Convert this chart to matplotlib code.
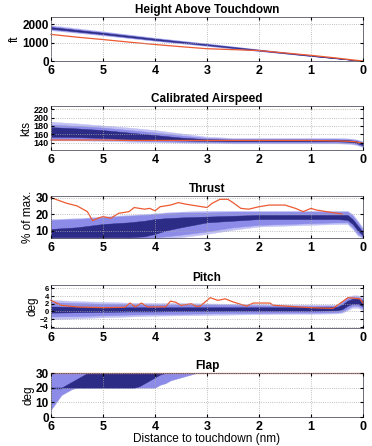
import matplotlib
matplotlib.use('Agg')
from matplotlib import pyplot as plt

plt.rcParams['font.family'] = ['Liberation Sans', 'DejaVu Sans']

# colours
c_light = '#c0c0f5'
c_mid = '#8c8ce8'
c_dark = '#2c2c86'
c_red = '#ec5a32'

# ---- Height above touchdown
dist_h = [6, 5, 4, 3, 2, 1, 0]
h_dark_lo = [1760, 1465, 1150, 865, 570, 280, 0]
h_dark_hi = [1850, 1540, 1215, 915, 610, 300, 0]
h_mid_lo = [1720, 1430, 1120, 840, 555, 270, 0]
h_mid_hi = [1900, 1580, 1245, 940, 625, 310, 0]
h_light_lo = [1680, 1400, 1100, 820, 540, 265, 0]
h_light_hi = [1950, 1620, 1270, 960, 640, 320, 5]
dist_h_red = [6, 5.5, 5, 4.5, 4, 3.5, 3, 2.5, 2, 1.5, 1, 0.5, 0.2, 0]
h_red = [1450, 1300, 1170, 1030, 900, 780, 670, 620, 570, 440, 310, 160, 60, 0]

# ---- Calibrated airspeed
dist_a = [6, 5.5, 5, 4.5, 4, 3.5, 3, 2.5, 2, 1.5, 1, 0.5, 0.3, 0.15, 0]
a_dark_lo = [154, 153, 151, 148, 146, 145, 144, 143, 143, 143, 143, 143, 142, 140, 133]
a_dark_hi = [177, 174, 170, 164, 158, 152, 148, 147, 147, 147, 147, 147, 146, 144, 139]
a_mid_lo = [149, 148, 147, 145, 143, 142, 141, 140, 140, 140, 140, 140, 139, 137, 131]
a_mid_hi = [183, 180, 176, 170, 164, 157, 151, 149, 149, 149, 149, 149, 148, 147, 141]
a_light_lo = [145, 145, 144, 142, 141, 140, 139, 138, 138, 138, 138, 138, 137, 135, 129]
a_light_hi = [190, 186, 181, 176, 170, 162, 154, 151, 151, 151, 151, 151, 150, 148, 143]
a_red = [146, 146, 146, 145, 145, 145, 145, 145, 145, 145, 145, 144, 143, 142, 138]

# ---- Thrust
dist_t = [6, 5.5, 5, 4.5, 4.2, 4, 3.8, 3.5, 3, 2.5, 2, 1.5, 1, 0.5, 0.3, 0.2, 0.1, 0]
t_dark_lo = [6, 6, 6, 6, 6.5, 8, 10, 12, 15, 16, 17, 17, 17, 17, 16.5, 14, 10, 7]
t_dark_hi = [11, 12, 14, 15, 16, 17, 17.5, 18, 18.5, 19, 19.5, 19.5, 19.5, 19.5, 19.5, 17, 13, 9]
t_mid_lo = [5.5, 5.5, 5.5, 5.5, 5.5, 6, 6.5, 7.5, 9.5, 12, 13.5, 14, 14.5, 15, 15, 12, 8, 6]
t_mid_hi = [16.5, 17, 18, 19, 19.5, 20, 20.5, 21, 21, 21.5, 21.5, 21.5, 21.5, 21.5, 21.5, 19, 15, 10.5]
t_light_lo = [5.5, 5.5, 5.5, 5.5, 5.5, 5.5, 5.5, 6, 8, 10.5, 12.5, 13, 13.5, 14, 14, 11, 7, 5.5]
t_light_hi = [17, 17.5, 18.5, 19.5, 20, 20.5, 21, 21.5, 22, 22, 22, 22, 22, 22, 22, 20, 16, 11.5]
dist_t_red = [6, 5.7, 5.5, 5.3, 5.2, 5.1, 5.0, 4.85, 4.7, 4.6, 4.5, 4.4, 4.2, 4.1, 4.0, 3.9,
              3.8, 3.7, 3.55, 3.4, 3.2, 3.0, 2.9, 2.75, 2.6, 2.5, 2.35, 2.2, 2.0, 1.8, 1.5,
              1.3, 1.15, 1.0, 0.9, 0.7, 0.5, 0.4]
t_red = [30, 26.6, 25, 21.5, 16, 17.5, 18.5, 17.5, 20.5, 21, 21.5, 24, 23, 23.5, 22, 24.5,
         25, 25.5, 27, 26, 25, 24, 26.6, 29, 29, 27, 23.5, 23, 24.5, 25.5, 25.5,
         23.5, 21.5, 23.5, 22.5, 21.5, 20.5, 20]

# ---- Pitch
dist_p = [6, 5.5, 5, 4.5, 4, 3.5, 3, 2.5, 2, 1.5, 1, 0.5, 0.4, 0.3, 0.2, 0.1, 0]
p_dark_lo = [-0.3, -0.2, -0.1, 0, 0, 0.1, 0.1, 0.2, 0.2, 0.2, 0.2, 0.3, 0.6, 1.5, 2.0, 2.0, 1.3]
p_dark_hi = [1.3, 1.2, 1.1, 1.1, 1.1, 1.1, 1.1, 1.1, 1.1, 1.1, 1.1, 1.2, 1.8, 2.8, 3.3, 3.4, 2.8]
p_mid_lo = [-1.3, -1.2, -1.0, -0.8, -0.7, -0.6, -0.5, -0.4, -0.4, -0.3, -0.3, -0.2, 0.0, 0.8, 1.5, 1.5, 0.8]
p_mid_hi = [2.4, 2.2, 2.0, 1.9, 1.8, 1.8, 1.8, 1.7, 1.6, 1.5, 1.5, 1.5, 2.4, 3.4, 3.8, 3.8, 3.2]
p_light_lo = [-2.0, -1.8, -1.5, -1.3, -1.1, -1.0, -0.9, -0.8, -0.7, -0.6, -0.6, -0.5, -0.3, 0.3, 1.0, 1.0, 0.3]
p_light_hi = [3.0, 2.7, 2.5, 2.3, 2.2, 2.2, 2.1, 2.0, 1.9, 1.8, 1.8, 1.8, 2.8, 3.8, 4.2, 4.2, 3.6]
dist_p_red = [6, 5.8, 5.5, 5.0, 4.58, 4.48, 4.38, 4.26, 4.15, 3.8, 3.7, 3.6, 3.5, 3.3, 3.2,
              3.13, 2.94, 2.79, 2.65, 2.5, 2.24, 2.11, 1.79, 1.72, 1.47, 1.02, 0.58, 0.38,
              0.29, 0.06, 0]
p_red = [2.9, 1.6, 1.2, 1.0, 1.1, 2.2, 1.2, 2.2, 1.2, 1.2, 2.7, 2.4, 1.6, 2.0, 1.3,
         1.4, 3.6, 2.9, 3.3, 2.5, 1.4, 2.2, 2.2, 1.6, 1.4, 1.0, 0.8, 2.7,
         3.6, 3.3, 2.2]

# ---- Flap
dist_f = [6.0, 5.9, 5.8, 5.7, 5.6, 5.5, 5.4, 5.3, 5.2, 4.4, 4.3, 4.2, 4.1, 4.0, 3.9,
          3.8, 3.7, 3.6, 3.5, 3.4, 3.3, 3.2, 3.1, 0]
f_light_lo = [5, 10, 15, 17, 19, 20, 20, 20, 20, 20, 20, 20, 20, 20, 22,
              23, 25, 26, 27, 28, 29, 30, 30, 30]
f_light_hi = [30] * len(dist_f)
f_dark_lo = [20, 20, 20, 20, 20, 20, 20, 20, 20, 20, 21, 23, 25, 27, 29,
             30, 30, 30, 30, 30, 30, 30, 30, 30]
f_dark_hi = [20, 20, 20, 22, 24, 26, 28, 30, 30, 30, 30, 30, 30, 30, 30,
             30, 30, 30, 30, 30, 30, 30, 30, 30]
dist_f_red = [6, 0]
f_red = [30, 30]

W, H = 372, 446
fig = plt.figure(figsize=(W / 100, H / 100), dpi=100)

panels = [
  # top px, bottom px, title, ylabel, ylim, yticks
  (17, 61, 'Height Above Touchdown', 'ft', (0, 2400), [0, 1000, 2000]),
  (106, 150, 'Calibrated Airspeed', 'kts', (122, 228), [140, 160, 180, 200, 220]),
  (196, 238, 'Thrust', '% of max.', (5.5, 31), [10, 20, 30]),
  (285, 328, 'Pitch', 'deg', (-4.3, 6.9), [-4, -2, 0, 2, 4, 6]),
  (373, 417, 'Flap', 'deg', (0, 30), [0, 10, 20, 30]),
]

bands = [
  (dist_h, [(h_light_lo, h_light_hi), (h_mid_lo, h_mid_hi), (h_dark_lo, h_dark_hi)], dist_h_red, h_red),
  (dist_a, [(a_light_lo, a_light_hi), (a_mid_lo, a_mid_hi), (a_dark_lo, a_dark_hi)], dist_a, a_red),
  (dist_t, [(t_light_lo, t_light_hi), (t_mid_lo, t_mid_hi), (t_dark_lo, t_dark_hi)], dist_t_red, t_red),
  (dist_p, [(p_light_lo, p_light_hi), (p_mid_lo, p_mid_hi), (p_dark_lo, p_dark_hi)], dist_p_red, p_red),
  (dist_f, [(f_light_lo, f_light_hi), (f_dark_lo, f_dark_hi)], dist_f_red, f_red),
]

ytick_size = [8.5, 6.5, 8.5, 5.5, 8.5]

left, right = 51, 363
for i, ((top, bot, title, ylab, ylim, yt), (dx, bl, rx, ry)) in enumerate(zip(panels, bands)):
  ax = fig.add_axes([left / W, 1 - bot / H, (right - left) / W, (bot - top) / H])
  cols = [c_light, c_mid, c_dark] if len(bl) == 3 else [c_mid, c_dark]
  for (lo, hi), c in zip(bl, cols):
    ax.fill_between(dx, lo, hi, color=c, lw=0.3, edgecolor=c)
  if i == 4:
    ax.plot([6, 5.8], [20, 20], color=c_dark, lw=1)
  ax.plot(rx, ry, color=c_red, lw=0.9, clip_on=False)
  ax.set_xlim(6, 0)
  ax.set_ylim(*ylim)
  ax.set_xticks([6, 5, 4, 3, 2, 1, 0])
  ax.set_yticks(yt)
  ax.grid(True, linestyle=':', color='#aaaaaa', lw=0.6)
  ax.set_axisbelow(False)
  ax.tick_params(direction='in', length=2, top=True, right=True)
  ax.tick_params(axis='x', labelsize=9, pad=3)
  ax.tick_params(axis='y', labelsize=ytick_size[i], pad=1.5)
  for lab in ax.get_xticklabels() + ax.get_yticklabels():
    lab.set_fontweight('bold')
  for s in ax.spines.values():
    s.set_color('#555566')
    s.set_linewidth(0.6)
  ax.set_title(title, fontsize=8.5, fontweight='bold', pad=3)
  ax.set_ylabel(ylab, fontsize=8.5, labelpad=1)

ax.set_xlabel('Distance to touchdown (nm)', fontsize=8.5, labelpad=0)

fig.savefig('out.png', dpi=100)
